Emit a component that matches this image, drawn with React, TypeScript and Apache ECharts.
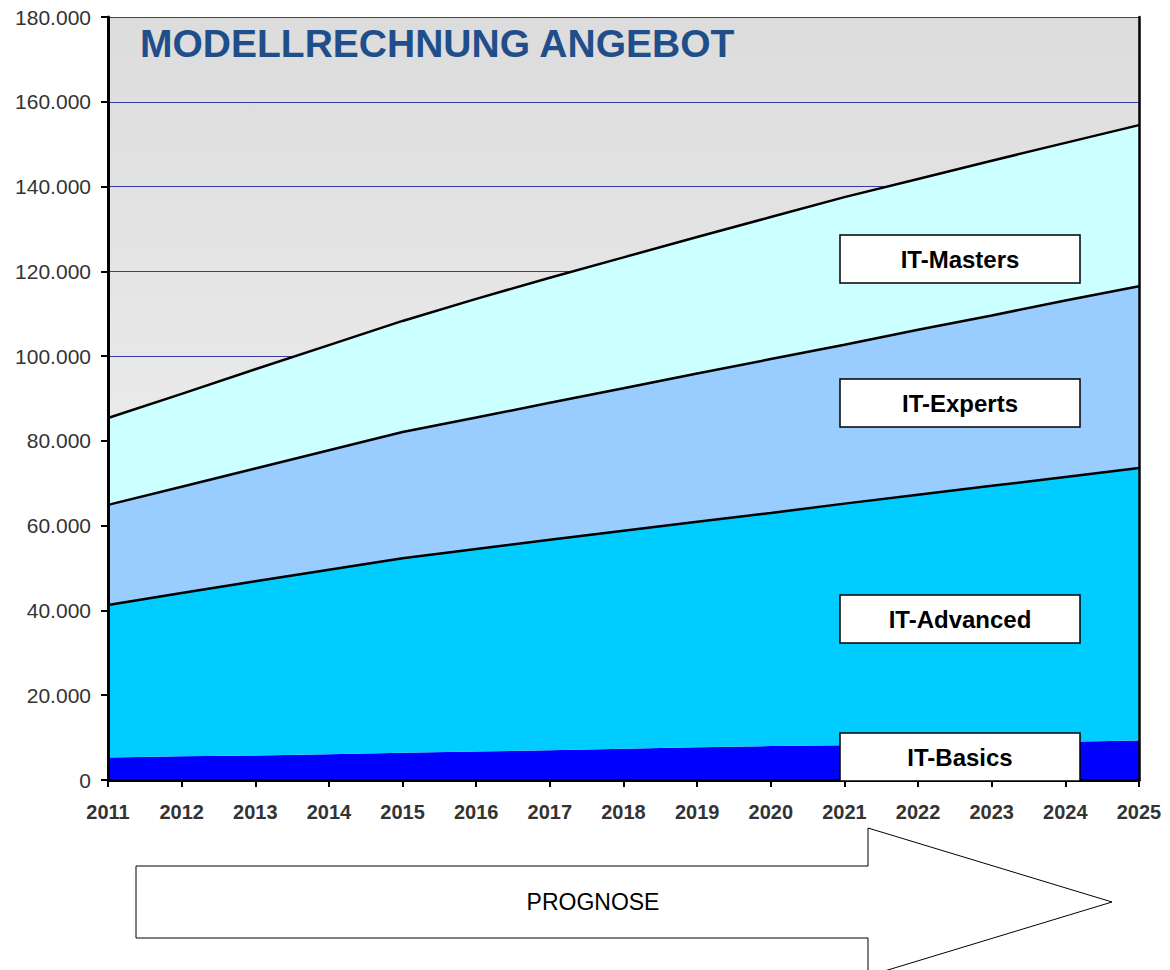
import React, { useEffect, useRef } from "react";
import * as echarts from "echarts";

const years = ["2011","2012","2013","2014","2015","2016","2017","2018","2019","2020","2021","2022","2023","2024","2025"];
const itBasics = [5300,5600,5800,6100,6400,6700,7000,7400,7700,8000,8200,8500,8800,9000,9300];
const itAdvanced = [36000,38500,41100,43500,45900,47800,49700,51400,53200,55000,57000,58800,60600,62500,64300];
const itExperts = [23600,25100,26600,28200,29800,31000,32300,33600,35000,36300,37500,38900,40200,41600,42900];
const itMasters = [20500,21900,23400,24800,26200,28000,29500,30900,32200,33500,34800,35600,36500,37200,38000];
const seriesNames = ["IT-Basics","IT-Advanced","IT-Experts","IT-Masters"];
const seriesColors = ["#0000ff","#00ccff","#99ccff","#ccffff"];
const titleText = "MODELLRECHNUNG ANGEBOT";
const arrowText = "PROGNOSE";

const FONT = "'Liberation Sans', Arial, Helvetica, sans-serif";

export default function App() {
  const ref = useRef<HTMLDivElement>(null);
  useEffect(() => {
    if (!ref.current) return;
    const chart = echarts.init(ref.current, undefined, { renderer: "svg" });
    const data = [itBasics, itAdvanced, itExperts, itMasters];
    const areaSeries = data.map((d, i) => ({
      name: seriesNames[i],
      type: "line",
      stack: "area",
      data: d,
      showSymbol: false,
      symbol: "none",
      lineStyle: { width: 0, color: seriesColors[i] },
      itemStyle: { color: seriesColors[i] },
      areaStyle: { color: seriesColors[i], opacity: 1 },
      z: 2,
    }));
    const lineSeries = data.map((d, i) => ({
      name: seriesNames[i] + " line",
      type: "line",
      stack: "line",
      data: d,
      showSymbol: false,
      symbol: "none",
      lineStyle: i === 0 ? { width: 0, opacity: 0 } : { width: 2.5, color: "#000" },
      itemStyle: { color: "#000" },
      z: 3,
    }));

    const boxes = [
      { label: "IT-Masters", top: 235 },
      { label: "IT-Experts", top: 379 },
      { label: "IT-Advanced", top: 595 },
      { label: "IT-Basics", top: 733 },
    ];
    const graphic: any[] = [
      {
        type: "text",
        left: 140,
        top: 24,
        z: 20,
        style: { text: titleText, fill: "#1f4e8a", font: `bold 39px ${FONT}` },
      },
      ...boxes.map((b) => ({
        type: "group",
        z: 20,
        children: [
          {
            type: "rect",
            shape: { x: 840, y: b.top, width: 240, height: 48 },
            style: { fill: "#fff", stroke: "#000", lineWidth: 1.5 },
            z: 20,
          },
          {
            type: "text",
            x: 960,
            y: b.top + 24,
            z: 21,
            style: {
              text: b.label,
              fill: "#000",
              font: `bold 24px ${FONT}`,
              align: "center",
              verticalAlign: "middle",
            },
          },
        ],
      })),
      {
        type: "polygon",
        z: 20,
        shape: {
          points: [
            [136, 866], [868, 866], [868, 828], [1112, 902],
            [868, 976], [868, 938], [136, 938],
          ],
        },
        style: { fill: "#fff", stroke: "#000", lineWidth: 1 },
      },
      {
        type: "text",
        x: 593,
        y: 902,
        z: 21,
        style: {
          text: arrowText,
          fill: "#000",
          font: `23px ${FONT}`,
          align: "center",
          verticalAlign: "middle",
        },
      },
    ];

    const yBase = { type: "value", min: 0, max: 180000, interval: 20000 };

    chart.setOption({
      animation: false,
      backgroundColor: "#fff",
      grid: {
        left: 108,
        right: 31,
        top: 17,
        bottom: 190,
        show: true,
        borderWidth: 0,
        backgroundColor: new echarts.graphic.LinearGradient(0, 0, 0, 1, [
          { offset: 0, color: "#dcdcdc" },
          { offset: 1, color: "#f6f6f6" },
        ]),
      },
      xAxis: [
        {
          type: "category",
          data: years,
          boundaryGap: false,
          position: "bottom",
          axisLine: { lineStyle: { color: "#000", width: 3 } },
          axisTick: { show: true, length: 7, lineStyle: { color: "#000", width: 2 }, alignWithLabel: true },
          axisLabel: { color: "#333", fontFamily: FONT, fontWeight: "bold", fontSize: 20, margin: 22, interval: 0 },
          splitLine: { show: false },
          z: 10,
        },
        {
          type: "category",
          data: years,
          boundaryGap: false,
          position: "top",
          axisLine: { show: true, lineStyle: { color: "#000", width: 2.5 } },
          axisTick: { show: false },
          axisLabel: { show: false },
          splitLine: { show: false },
          z: 10,
        },
      ],
      yAxis: [
        {
          ...yBase,
          axisLine: { show: false },
          axisTick: { show: false },
          axisLabel: { show: false },
          splitLine: { show: true, lineStyle: { color: "#3b3b9e", width: 1 } },
          z: 0,
        },
        {
          ...yBase,
          position: "left",
          axisLine: { show: true, lineStyle: { color: "#000", width: 3 } },
          axisTick: { show: true, length: 7, lineStyle: { color: "#000", width: 2 } },
          axisLabel: {
            color: "#333",
            fontFamily: FONT,
            fontSize: 21,
            margin: 17,
            formatter: (v: number) => (v === 0 ? "0" : v.toLocaleString("de-DE")),
          },
          splitLine: { show: false },
          z: 10,
        },
        {
          ...yBase,
          position: "right",
          axisLine: { show: true, lineStyle: { color: "#000", width: 2.5 } },
          axisTick: { show: false },
          axisLabel: { show: false },
          splitLine: { show: false },
          z: 10,
        },
      ],
      series: [...areaSeries, ...lineSeries],
      graphic,
    });
    return () => chart.dispose();
  }, []);
  return (
    <div
      ref={ref}
      style={{ position: "absolute", left: 0, top: 0, width: 1170, height: 970 }}
    />
  );
}
